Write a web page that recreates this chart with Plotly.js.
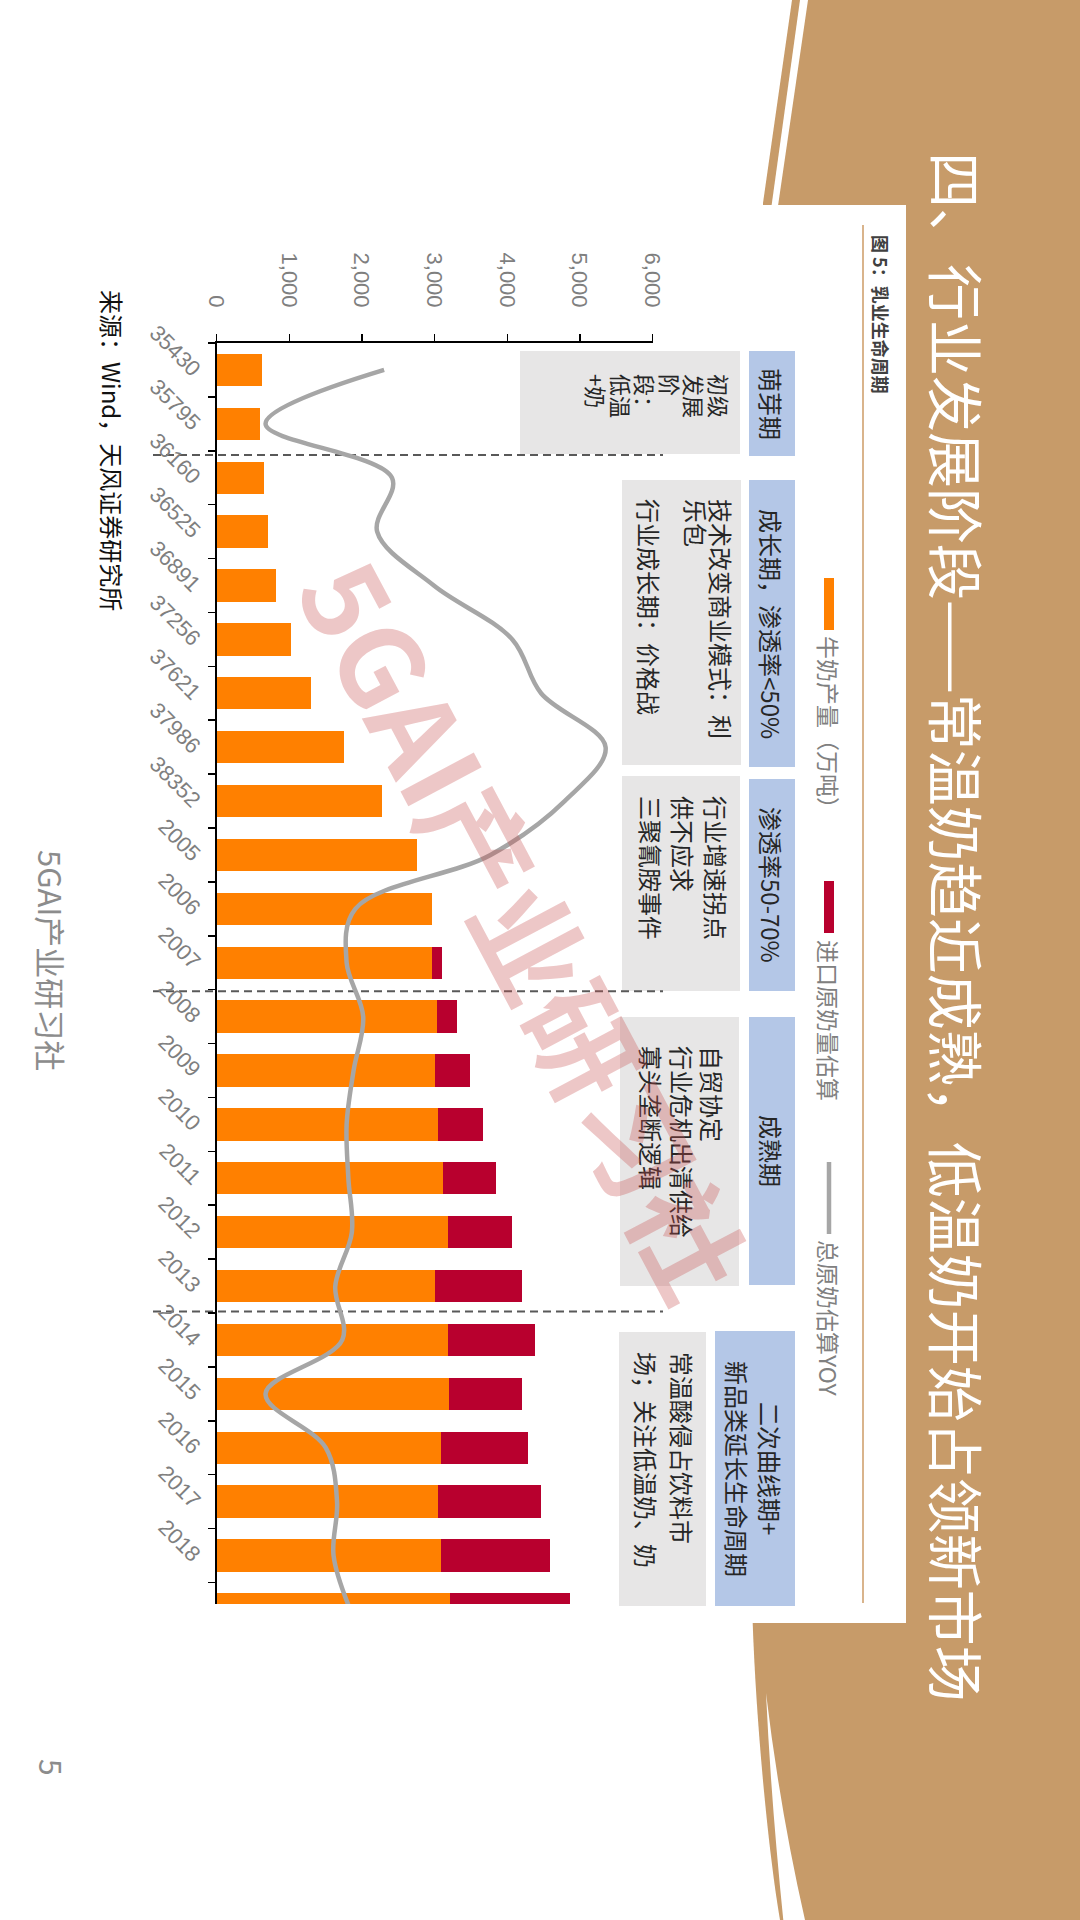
<!DOCTYPE html>
<html>
<head>
<meta charset="utf-8">
<script src="https://cdn.plot.ly/plotly-3.0.1.min.js"></script>
<style>
html,body{margin:0;padding:0;width:1080px;height:1920px;overflow:hidden;background:#ffffff;}
#slide{position:absolute;left:0;top:0;width:1920px;height:1080px;transform-origin:0 0;transform:translate(1080px,0) rotate(90deg);}
</style>
</head>
<body>
<div id="slide"></div>
<script>
// ---------------- data ----------------
const categories = ['35430','35795','36160','36525','36891','37256','37621','37986','38352',
  '2005','2006','2007','2008','2009','2010','2011','2012','2013','2014','2015','2016','2017','2018','2019'];
const milkOutput = [630, 602, 653, 708, 818, 1021, 1297, 1752, 2271, 2763, 2956, 2956,
  3025, 2998, 3048, 3117, 3186, 3007, 3177, 3191, 3080, 3048, 3080, 3214];
const importedMilk = [0, 0, 0, 0, 0, 0, 0, 0, 0, 0, 0, 147,
  285, 487, 616, 722, 874, 1195, 1209, 1011, 1200, 1412, 1513, 1641];
const totalMilkYoY = [9.2, -4.4, 10.1, 8.4, 14.9, 23.9, 27.2, 34.6, 29.9, 21.4, 5.9, 4.9,
  6.8, 5.7, 4.9, 5.1, 5.5, 3.6, 4.4, -4.4, 2.5, 3.8, 3.4, 5.3];
const valueTickVals = [0, 1000, 2000, 3000, 4000, 5000, 6000];
const valueTickText = ['0', '1,000', '2,000', '3,000', '4,000', '5,000', '6,000'];
const seriesNames = ['牛奶产量（万吨）', '进口原奶量估算', '总原奶估算YOY'];
const phaseBoundaries = [1.58, 11.53, 17.47];
const phaseTitles = [['萌芽期'], ['成长期，渗透率&lt;50%'], ['渗透率50-70%'], ['成熟期'], ['二次曲线期+', '新品类延长生命周期']];
const phaseNotes = [
  ['初级', '发展', '阶', '段：', '低温', '+奶'],
  ['技术改变商业模式：利', '乐包', '', '行业成长期：价格战'],
  ['行业增速拐点', '供不应求', '三聚氰胺事件'],
  ['自贸协定', '行业危机出清供给', '寡头垄断逻辑'],
  ['常温酸侵占饮料市', '场；关注低温奶、奶']
];
const slideTitle = '四、行业发展阶段——常温奶趋近成熟，低温奶开始占领新市场';
const figureCaption = '图 5：乳业生命周期';
const sourceText = '来源：Wind，天风证券研究所';
const footerText = '5GAI产业研习社';
const pageNumber = '5';
const watermarkText = '5GAI产业研习社';

// ---------------- geometry helpers (slide pixels -> paper) ----------------
const W = 1920, H = 1080;
const px = u => u / W;
const py = v => 1 - v / H;
function path(cmds) {
  return cmds.map(c => {
    if (c[0] === 'Z') return 'Z';
    const pts = [];
    for (let i = 1; i < c.length; i += 2) pts.push(px(c[i]).toFixed(5) + ',' + py(c[i + 1]).toFixed(5));
    return c[0] + pts.join(' ');
  }).join(' ');
}
const CJK = '"Noto Sans CJK SC", "Noto Sans", sans-serif';
const LAT = '"Liberation Sans", Arial, sans-serif';
const colors = {brown: '#C79B69', orange: '#FF8000', crimson: '#B8002E', line: '#A6A6A6',
  blue: '#B4C7E7', gray: '#E7E6E6', tan: '#D9B48C', tick: '#7F7F7F', dark: '#262626'};

function ann(text, u, v, o) {
  o = o || {};
  return Object.assign({text: text, xref: 'paper', yref: 'paper', x: px(u), y: py(v),
    showarrow: false, xanchor: o.xanchor || 'left', yanchor: 'middle',
    font: {family: o.family || CJK, size: o.size || 24, color: o.color || colors.dark, weight: o.weight || 400}},
    o.extra || {});
}

// ---------------- traces ----------------
const traces = [
  {type: 'bar', x: categories, y: milkOutput, name: seriesNames[0], marker: {color: colors.orange}, width: 0.6},
  {type: 'bar', x: categories, y: importedMilk, name: seriesNames[1], marker: {color: colors.crimson}, width: 0.6},
  {type: 'scatter', mode: 'lines', x: categories, y: totalMilkYoY, name: seriesNames[2], yaxis: 'y2',
    line: {color: colors.line, width: 4.5, shape: 'spline', smoothing: 1}}
];

// ---------------- shapes ----------------
const shapes = [];
shapes.push({type: 'path', xref: 'paper', yref: 'paper', layer: 'below', fillcolor: colors.brown, line: {width: 0},
  path: path([['M', 0, 0], ['L', 1920, 0], ['L', 1920, 300], ['C', 1850, 312, 1720, 324, 1623, 327.3], ['L', 203, 317], ['L', 0, 288], ['Z']])});
shapes.push({type: 'path', xref: 'paper', yref: 'paper', layer: 'below', fillcolor: '#ffffff', line: {width: 0},
  path: path([['M', 0, 272], ['L', 0, 280], ['L', 206, 308.5], ['L', 206, 302], ['Z']])});
shapes.push({type: 'path', xref: 'paper', yref: 'paper', layer: 'below', fillcolor: '#ffffff', line: {width: 0},
  path: path([['M', 1693, 314], ['Q', 1800, 309, 1920, 296.7], ['L', 1920, 275], ['Q', 1810, 300, 1693, 314], ['Z']])});
shapes.push({type: 'rect', xref: 'paper', yref: 'paper', layer: 'below', fillcolor: '#ffffff', line: {width: 0},
  x0: px(205), x1: px(1623), y0: py(1080), y1: py(174)});
shapes.push({type: 'line', xref: 'paper', yref: 'paper', layer: 'below', line: {color: colors.tan, width: 2},
  x0: px(225), x1: px(1603), y0: py(217), y1: py(217)});
const blueBoxes = [[351, 456, 285, 331], [480, 767, 285, 331], [779, 991, 285, 331], [1017, 1285, 285, 331], [1331, 1606, 285, 365]];
const grayBoxes = [[351, 454, 340, 560], [480, 765, 339, 458], [776, 991, 340, 458], [1017, 1286, 341, 460], [1332, 1606, 374, 461]];
blueBoxes.forEach(b => shapes.push({type: 'rect', xref: 'paper', yref: 'paper', layer: 'below', fillcolor: colors.blue, line: {width: 0},
  x0: px(b[0]), x1: px(b[1]), y0: py(b[3]), y1: py(b[2])}));
grayBoxes.forEach(b => shapes.push({type: 'rect', xref: 'paper', yref: 'paper', layer: 'below', fillcolor: colors.gray, line: {width: 0},
  x0: px(b[0]), x1: px(b[1]), y0: py(b[3]), y1: py(b[2])}));
shapes.push({type: 'rect', xref: 'paper', yref: 'paper', layer: 'below', fillcolor: colors.orange, line: {width: 0},
  x0: px(578), x1: px(630), y0: py(256), y1: py(246)});
shapes.push({type: 'rect', xref: 'paper', yref: 'paper', layer: 'below', fillcolor: colors.crimson, line: {width: 0},
  x0: px(881), x1: px(933), y0: py(256), y1: py(246)});
shapes.push({type: 'line', xref: 'paper', yref: 'paper', layer: 'below', line: {color: colors.line, width: 4.5},
  x0: px(1162), x1: px(1234), y0: py(251), y1: py(251)});
phaseBoundaries.forEach(b => shapes.push({type: 'line', xref: 'x', yref: 'paper', layer: 'below',
  line: {color: '#595959', width: 2, dash: '8px,5px'}, x0: b, x1: b, y0: py(927), y1: py(417)}));

// ---------------- annotations ----------------
const annotations = [];
annotations.push(ann(slideTitle, 150, 122, {size: 56, color: '#ffffff'}));
annotations.push(ann(figureCaption, 233, 199, {size: 18, color: '#404040', weight: 700}));
const legendStarts = [634, 938, 1238];
seriesNames.forEach((n, i) => annotations.push(ann(n, legendStarts[i], 251, {size: 23, color: '#808080'})));
phaseTitles.forEach((t, i) => {
  const b = blueBoxes[i];
  const uc = (b[0] + b[1]) / 2;
  const vs = t.length === 1 ? [308] : [310, 342];
  t.forEach((line, k) => annotations.push(ann(line, uc, vs[k], {xanchor: 'center', size: 24})));
});
const noteLayout = [
  {u: 372, v: [360, 384.5, 409, 433.5, 458, 482.5], size: 22},
  {u: 497, v: [358, 383, 406, 430], size: 24},
  {u: 794, v: [363, 396, 429], size: 24},
  {u: 1044, v: [367, 398, 428], size: 24},
  {u: 1350, v: [398, 433], size: 24}
];
phaseNotes.forEach((lines, i) => {
  lines.forEach((line, k) => {
    if (line) annotations.push(ann(line, noteLayout[i].u, noteLayout[i].v[k], {size: noteLayout[i].size}));
  });
});
annotations.push(ann(sourceText, 288, 967, {size: 24, color: '#111111'}));
annotations.push(ann(footerText, 960, 1028, {xanchor: 'center', size: 31, color: '#8C8C8C'}));
annotations.push(ann(pageNumber, 1767, 1028, {xanchor: 'center', size: 30, color: '#8C8C8C'}));
annotations.push(ann(watermarkText, 927, 552, {xanchor: 'center', size: 112, color: 'rgba(200,80,80,0.32)', weight: 700,
  extra: {textangle: -28}}));

// ---------------- layout ----------------
const layout = {
  width: W, height: H,
  margin: {l: 0, r: 0, t: 0, b: 0},
  paper_bgcolor: '#ffffff', plot_bgcolor: 'rgba(0,0,0,0)',
  font: {family: CJK},
  showlegend: false,
  barmode: 'stack',
  xaxis: {type: 'category', domain: [px(343), px(1604)], range: [-0.5, 22.9],
    showline: true, linecolor: '#000000', linewidth: 2, ticks: 'outside', tickson: 'boundaries',
    ticklen: 7, tickwidth: 1.5, tickcolor: '#000000', tickangle: -45,
    tickfont: {family: LAT, size: 22, color: colors.tick}, showgrid: false, zeroline: false, fixedrange: true},
  yaxis: {domain: [py(863.3), py(427.3)], range: [0, 6000], tickmode: 'array', tickvals: valueTickVals, ticktext: valueTickText,
    showline: true, linecolor: '#000000', linewidth: 2, ticks: 'outside', ticklen: 7, tickwidth: 1.5, tickcolor: '#000000',
    tickfont: {family: LAT, size: 22, color: colors.tick}, ticklabelstandoff: 22,
    showgrid: false, zeroline: false, fixedrange: true},
  yaxis2: {overlaying: 'y', range: [-10, 40], visible: false, fixedrange: true},
  shapes: shapes,
  annotations: annotations
};

Plotly.newPlot('slide', traces, layout, {staticPlot: true, displayModeBar: false});
</script>
</body>
</html>
